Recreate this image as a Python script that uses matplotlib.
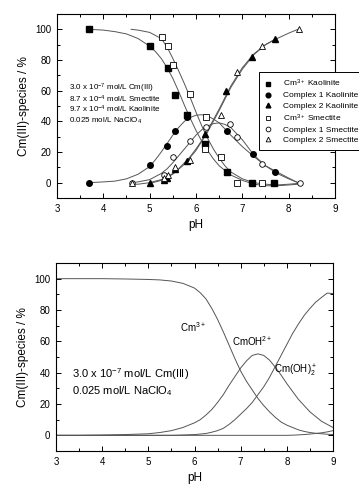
import numpy as np
import matplotlib
matplotlib.use("Agg")
import matplotlib.pyplot as plt
from matplotlib.ticker import MultipleLocator

plt.rcParams['font.family'] = ['Liberation Sans', 'DejaVu Sans']
plt.rcParams['mathtext.fontset'] = 'custom'
plt.rcParams['mathtext.rm'] = 'Liberation Sans'
plt.rcParams['mathtext.it'] = 'Liberation Sans:italic'
plt.rcParams['mathtext.default'] = 'regular'

# --- top panel: measured species (points) ---
ph_cm_kao = [3.69, 5.0, 5.40, 5.55, 5.80, 6.20, 6.66, 7.21, 7.69]
cm_kao = [100, 89, 75, 57, 44, 25, 7, 0, 0]
ph_c1_kao = [3.70, 5.0, 5.38, 5.55, 5.80, 6.66, 7.22, 7.71]
c1_kao = [0, 11.5, 24, 34, 43, 34, 18.5, 7]
ph_c2_kao = [5.0, 5.30, 5.37, 5.55, 5.80, 6.20, 6.65, 7.20, 7.70]
c2_kao = [0, 2, 3, 9, 14, 32, 60, 82, 94]
ph_cm_sme = [5.26, 5.40, 5.51, 5.86, 6.22, 6.20, 6.55, 6.89, 7.42]
cm_sme = [95, 89, 77, 58, 43, 22, 17, 0, 0]
ph_c1_sme = [4.61, 5.30, 5.51, 5.87, 6.22, 6.73, 6.89, 7.42, 8.24]
c1_sme = [0, 5, 17, 27, 36, 38, 30, 12, 0]
ph_c2_sme = [4.61, 5.30, 5.40, 5.55, 5.87, 6.55, 6.88, 7.42, 8.22]
c2_sme = [0, 3, 5, 10, 15, 44, 72, 89, 100]

# --- top panel: fitted curves ---
fit_ph_a = [3.7, 4.0, 4.25, 4.5, 4.75, 5.0, 5.125, 5.25, 5.375, 5.5, 5.625,
            5.75, 5.875, 6.0, 6.125, 6.25, 6.375, 6.5, 6.75, 7.0, 7.25, 7.5,
            7.75, 8.0, 8.2]
fit_cm_kao = [100, 99.5, 98.5, 97, 94, 89, 85.5, 81, 75, 68, 59.5, 50.5, 42,
              34, 27, 21, 15.5, 11, 5, 1.5, -1, -2, -2, -1.5, -1]
fit_c1_kao = [0, 0.5, 1, 2.5, 5.5, 10.5, 15, 20, 25.5, 31, 36, 40, 42.5, 44,
              44.3, 43.5, 41.5, 39, 31, 23.5, 17, 11, 6, 2.5, 0]
fit_ph_b = [4.6, 4.75, 5.0, 5.25, 5.375, 5.5, 5.625, 5.75, 5.875, 6.0, 6.125,
            6.25, 6.375, 6.5, 6.625, 6.75, 7.0, 7.25, 7.5, 7.75, 8.0, 8.2]
fit_cm_sme = [100, 99.5, 98, 94, 88.5, 81, 73, 64.5, 55.5, 46, 37, 29, 22, 16,
              11, 7, 2.5, 0, -1, -1.5, -1, -0.5]
fit_c1_sme = [0, 0.5, 2, 6, 9, 13, 17.5, 22, 26.5, 31, 34.5, 37, 38.5, 39, 38,
              36, 28, 18, 11, 7, 3, 0]
fit_c2 = [-1, -1, 0, 2, 3.8, 6, 9, 13, 17, 22, 27.5, 34, 41, 48, 55.5, 63, 75,
          84, 90, 94, 97.5, 100]
fit_ph_c = [5.0, 5.25, 5.5, 5.75, 6.0, 6.25, 6.5, 6.75, 7.0, 7.25, 7.5, 7.7]
fit_c2_kao = [-0.5, 1.5, 5.5, 12, 21, 33, 47, 62, 74, 83.5, 90, 93.5]

# --- bottom panel: calculated speciation ---
ph_calc = [3.0, 3.5, 4.0, 4.5, 5.0, 5.25, 5.5, 5.75, 6.0, 6.125, 6.25, 6.375,
           6.5, 6.625, 6.75, 6.875, 7.0, 7.125, 7.25, 7.375, 7.5, 7.625, 7.75,
           7.875, 8.0, 8.125, 8.25, 8.375, 8.5, 8.625, 8.75, 8.875, 9.0]
cm3 = [100, 100, 100, 99.8, 99.5, 99.2, 98.5, 97, 94, 91, 87, 81, 74, 66, 57.5,
       49, 41, 34.5, 29, 23.5, 19, 15, 11.5, 8.5, 6.5, 5, 3.5, 2.5, 1.8, 1.3,
       1, 0.7, 0.5]
cmoh = [0, 0, 0.2, 0.5, 1, 1.8, 3, 5, 8, 10, 13, 16.5, 21, 26, 32, 37.5, 43,
        47.5, 51, 52, 51, 48, 43.5, 38.5, 33, 28, 23, 19, 15, 12, 9, 7, 5]
cmoh2 = [0, 0, 0, 0, 0, 0, 0, 0.2, 0.5, 0.8, 1.2, 2, 3, 4.5, 7, 10, 13.5, 17,
         21, 26, 31, 37, 44, 51, 58, 65, 71, 76.5, 81, 85, 88, 90.8, 90.5]
cmoh3 = [0, 0, 0, 0, 0, 0, 0, 0, 0, 0, 0, 0, 0, 0, 0, 0, 0, 0, 0, 0, 0, 0, 0,
         0, 0, 0.1, 0.3, 0.5, 0.8, 1.2, 1.6, 2.2, 3]

legend_labels = ['Cm$^{3+}$ Kaolinite', 'Complex 1 Kaolinite', 'Complex 2 Kaolinite',
                 'Cm$^{3+}$ Smectite', 'Complex 1 Smectite', 'Complex 2 Smectite']

fig = plt.figure(figsize=(3.59, 4.88), dpi=100)
ax1 = fig.add_axes([57/359, 1-198/488, 278/359, 184/488])
ax2 = fig.add_axes([56/359, 1-451/488, 277/359, 188/488])

lc = '#555555'
lw = 0.7
for x, y in [(fit_ph_a, fit_cm_kao), (fit_ph_a, fit_c1_kao), (fit_ph_b, fit_cm_sme),
             (fit_ph_b, fit_c1_sme), (fit_ph_b, fit_c2), (fit_ph_c, fit_c2_kao)]:
    ax1.plot(x, y, color=lc, lw=lw, zorder=1)

ms = 4
ax1.plot(ph_cm_kao, cm_kao, 's', color='k', ms=ms, ls='none', label=legend_labels[0])
ax1.plot(ph_c1_kao, c1_kao, 'o', color='k', ms=ms, ls='none', label=legend_labels[1])
ax1.plot(ph_c2_kao, c2_kao, '^', color='k', ms=ms, ls='none', label=legend_labels[2])
ax1.plot(ph_cm_sme, cm_sme, 's', mfc='white', mec='k', mew=0.6, ms=ms, ls='none',
         label=legend_labels[3])
ax1.plot(ph_c1_sme, c1_sme, 'o', mfc='white', mec='k', mew=0.6, ms=ms, ls='none',
         label=legend_labels[4])
ax1.plot(ph_c2_sme, c2_sme, '^', mfc='white', mec='k', mew=0.6, ms=ms, ls='none',
         label=legend_labels[5])

ax1.text(3.26, 61.5, '3.0 x 10$^{-7}$ mol/L Cm(III)', fontsize=5.8, va='center')
ax1.text(3.26, 54.5, '8.7 x 10$^{-4}$ mol/L Smectite', fontsize=5.8, va='center')
ax1.text(3.26, 47.5, '9.7 x 10$^{-4}$ mol/L Kaolinite', fontsize=5.8, va='center')
ax1.text(3.26, 40.5, '0.025 mol/L NaClO$_4$', fontsize=5.8, va='center')

leg = ax1.legend(loc='upper left', bbox_to_anchor=(0.725, 0.685), fontsize=6,
                 frameon=True, fancybox=False, edgecolor='k', framealpha=1,
                 handlelength=0.8, handletextpad=1.4, labelspacing=0.3,
                 borderpad=0.7, borderaxespad=0, markerscale=0.85)
leg.get_frame().set_linewidth(0.7)

ax2.plot(ph_calc, cm3, color=lc, lw=lw)
ax2.plot(ph_calc, cmoh, color=lc, lw=lw)
ax2.plot(ph_calc, cmoh2, color=lc, lw=lw)
ax2.plot(ph_calc, cmoh3, color=lc, lw=lw)
ax2.text(5.97, 69, 'Cm$^{3+}$', fontsize=7, ha='center', va='center')
ax2.text(7.24, 60, 'CmOH$^{2+}$', fontsize=7, ha='center', va='center')
ax2.text(8.2, 41, 'Cm(OH)$_2^+$', fontsize=7, ha='center', va='center')
ax2.text(3.35, 39, '3.0 x 10$^{-7}$ mol/L Cm(III)', fontsize=8, va='center')
ax2.text(3.35, 28, '0.025 mol/L NaClO$_4$', fontsize=8, va='center')

for ax in (ax1, ax2):
    ax.set_xlim(3, 9)
    ax.set_ylim(-10, 110)
    ax.xaxis.set_major_locator(MultipleLocator(1))
    ax.xaxis.set_minor_locator(MultipleLocator(0.5))
    ax.yaxis.set_major_locator(MultipleLocator(20))
    ax.yaxis.set_minor_locator(MultipleLocator(10))
    ax.tick_params(which='both', direction='in', top=True, right=True,
                   labelsize=7, width=0.7)
    ax.tick_params(which='major', length=3.5, pad=4)
    ax.tick_params(which='minor', length=2)
    for s in ax.spines.values():
        s.set_linewidth(0.8)
    ax.set_xlabel('pH', fontsize=8.5, labelpad=4)
    ax.set_ylabel('Cm(III)-species / %', fontsize=8.5, labelpad=4)

fig.savefig('out.png', dpi=100)
